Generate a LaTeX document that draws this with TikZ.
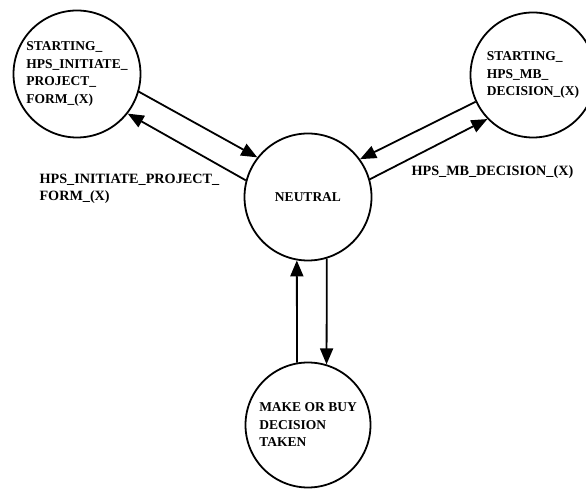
\documentclass[tikz,border=0pt]{standalone}
\usepackage{fontspec}
\setmainfont{Liberation Serif}
\usetikzlibrary{
	arrows.meta,
	positioning
}

\begin{document}
\begin{tikzpicture}[
		x=1pt, y=1pt,
		state/.style={draw, circle, line width=1.8pt, align=left, minimum size=127pt, inner sep=0pt, font=\fontsize{13.5}{17.5}\selectfont\bfseries},
		arrow/.style={-{Triangle[length=16pt, width=13pt]}, line width=1.8pt},
		lbl/.style={anchor=west, align=left, font=\fontsize{14.2}{17.5}\selectfont\bfseries}
		]
		\useasboundingbox (0,0) rectangle (586,489);
		
		% States
		\node[state] (startInit) at (77,415) {STARTING\_\\HPS\_INITIATE\_\\PROJECT\_\\FORM\_(X)};
		\node[state] (neutral) at (308,292) {NEUTRAL};
		\node[state, minimum size=125pt] (startMB) at (533,414) {STARTING\_\\HPS\_MB\_\\DECISION\_(X)};
		\node[state, minimum size=125pt] (decided) at (308,64) {MAKE OR BUY\\DECISION\\TAKEN};
		
		% Transitions
		\draw[arrow] (startInit.-16) -- (neutral.142);
		\draw[arrow] (neutral.165) -- (startInit.-38);
		\draw[arrow] (startMB.-155) -- (neutral.36);
		\draw[arrow] (neutral.16) -- (startMB.-136);
		\draw[arrow] (decided.100) -- (neutral.260);
		\draw[arrow] (neutral.287) -- (decided.73);
		
		% Labels
		\node[lbl] (lblInit) at (36,300) {HPS\_INITIATE\_PROJECT\_\\FORM\_(X)};
		\node[lbl] (lblMB) at (408,317) {HPS\_MB\_DECISION\_(X)};
		
	\end{tikzpicture}
\end{document}
